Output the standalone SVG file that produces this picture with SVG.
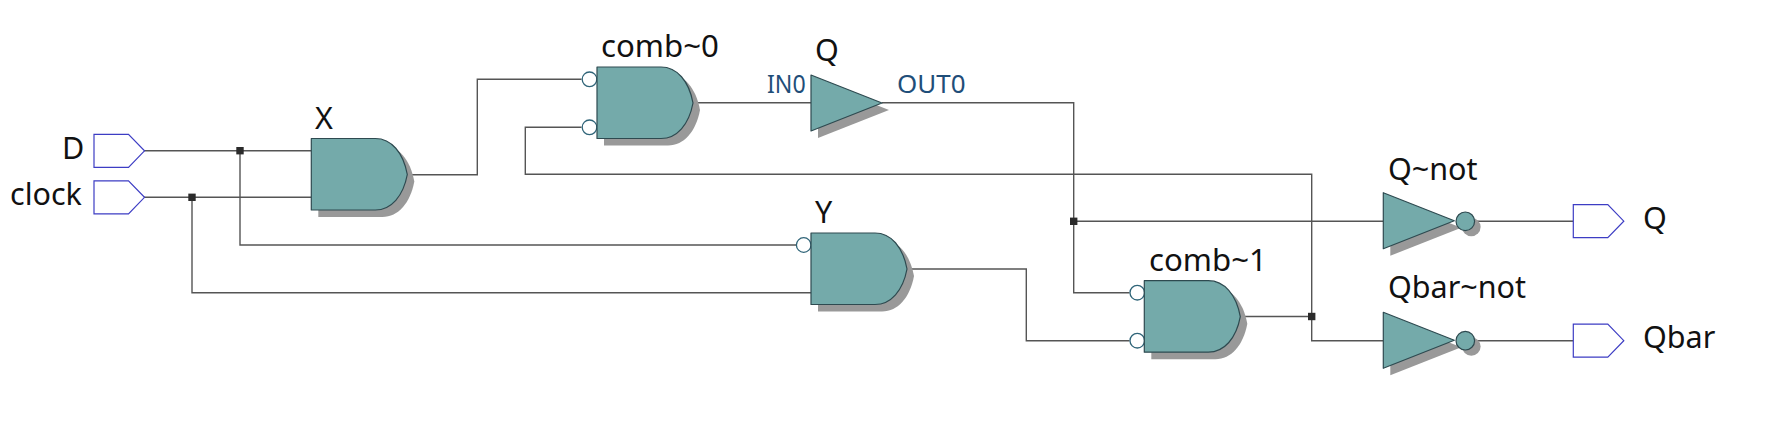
<svg xmlns="http://www.w3.org/2000/svg" width="1781" height="432" viewBox="0 0 1781 432">
<style>
text{font-family:"Noto Sans","Open Sans","Liberation Sans",sans-serif;font-size:30.500px;fill:#111}
.comb{font-size:31.200px}
.pin{font-size:25px;fill:#1f4e79}
.wire{fill:none;stroke:#555;stroke-width:1.4}
.jn{fill:#2b2b2b}
.port{fill:#fff;stroke:#3d3dc4;stroke-width:1.2}
.body{fill:#74aaaa;stroke:#2e4a50;stroke-width:1.2;stroke-linejoin:round}
.shadow{fill:#999}
.bub{fill:#fff;stroke:#2f6478;stroke-width:1.3}
.nbub{fill:#74aaaa;stroke:#2e4a50;stroke-width:1.2}
</style>
<defs>
<path id="and" d="M0 0H64C80 0 92 14 96 36C92 57.500 80 71.500 64 71.500H0Z"/>
<path id="tri" d="M0 0L71 28L0 56Z"/>
<path id="pt" d="M0 0H34.500L50.500 16.500L34.500 33H0Z"/>
</defs>
<g id="connectors">
<path class="wire" d="M144 150.700H311.300"/>
<path class="wire" d="M144 197.300H311.300"/>
<path class="wire" d="M240 150.700V245H796"/>
<path class="wire" d="M192 197.300V292.700H811"/>
<path class="wire" d="M407.300 174.700H477.300V79.300H581.500"/>
<path class="wire" d="M581.500 127.300H525.300V174.300H1311.700V340.700H1383.300"/>
<path class="wire" d="M692.700 102.700H811"/>
<path class="wire" d="M882 102.700H1073.700V292.700H1129.500"/>
<path class="wire" d="M1073.700 221.300H1383.300"/>
<path class="wire" d="M906.700 269H1026.300V340.700H1129.500"/>
<path class="wire" d="M1240 316.500H1311.700"/>
<path class="wire" d="M1474 221.300H1573.300"/>
<path class="wire" d="M1474 340.700H1573.300"/>
<rect class="jn" x="236.300" y="147" width="7.400" height="7.400"/>
<rect class="jn" x="188.300" y="193.600" width="7.400" height="7.400"/>
<rect class="jn" x="1070" y="217.600" width="7.400" height="7.400"/>
<rect class="jn" x="1308" y="312.800" width="7.400" height="7.400"/>
</g>
<g id="D"><use href="#pt" class="port" x="94" y="134.300"/><text x="62" y="158.500">D</text></g>
<g id="clock"><use href="#pt" class="port" x="94" y="180.800"/><text x="10" y="204.500">clock</text></g>
<g id="X"><use href="#and" class="shadow" x="318.300" y="145.500"/><use href="#and" class="body" x="311.300" y="138.500"/><text x="315" y="128.500">X</text></g>
<g id="comb0"><use href="#and" class="shadow" x="604" y="74"/><circle class="bub" cx="589.500" cy="79.300" r="7.300"/><circle class="bub" cx="589.500" cy="127.300" r="7.300"/><use href="#and" class="body" x="597" y="67"/><text class="comb" x="601" y="56.500">comb~0</text></g>
<g id="Q_buf"><use href="#tri" class="shadow" x="818" y="82"/><use href="#tri" class="body" x="811" y="75"/><text x="815" y="60.500">Q</text><text class="pin" x="767" y="92.500" textLength="38.700" lengthAdjust="spacingAndGlyphs">IN0</text><text class="pin" x="897" y="92.500" textLength="68.500" lengthAdjust="spacingAndGlyphs">OUT0</text></g>
<g id="Y"><use href="#and" class="shadow" x="818" y="240"/><circle class="bub" cx="803.700" cy="245" r="7.300"/><use href="#and" class="body" x="811" y="233"/><text x="815" y="222.500">Y</text></g>
<g id="comb1"><use href="#and" class="shadow" x="1151.300" y="287.700"/><circle class="bub" cx="1137.300" cy="292.700" r="7.300"/><circle class="bub" cx="1137.300" cy="340.700" r="7.300"/><use href="#and" class="body" x="1144.300" y="280.700"/><text class="comb" x="1149" y="271">comb~1</text></g>
<g id="Q_not"><use href="#tri" class="shadow" x="1390.300" y="199.700"/><circle class="shadow" cx="1471.300" cy="227" r="9.300"/><use href="#tri" class="body" x="1383.300" y="192.700"/><circle class="nbub" cx="1465.300" cy="221.300" r="9.300"/><text x="1388" y="180">Q~not</text></g>
<g id="Qbar_not"><use href="#tri" class="shadow" x="1390.300" y="319.300"/><circle class="shadow" cx="1471.300" cy="346.500" r="9.300"/><use href="#tri" class="body" x="1383.300" y="312.300"/><circle class="nbub" cx="1465.300" cy="340.700" r="9.300"/><text x="1388" y="298.300">Qbar~not</text></g>
<g id="Q_out"><use href="#pt" class="port" x="1573.300" y="204.700"/><text x="1643" y="228.500">Q</text></g>
<g id="Qbar_out"><use href="#pt" class="port" x="1573.300" y="324.200"/><text x="1643" y="347.800">Qbar</text></g>
</svg>
